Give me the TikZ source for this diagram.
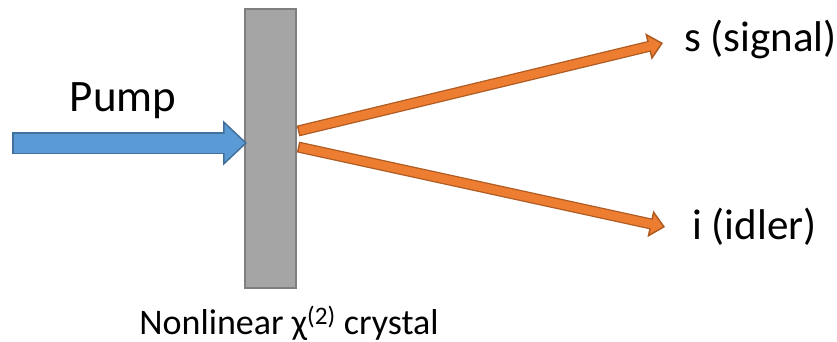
\documentclass[tikz,border=0pt]{standalone}
\usepackage{fontspec}
\setmainfont{Carlito}
\usetikzlibrary{arrows.meta, positioning, calc}
\definecolor{pumpblue}{HTML}{5B9BD5}
\definecolor{pumpedge}{HTML}{41719C}
\definecolor{beamorange}{HTML}{ED7D31}
\definecolor{beamedge}{HTML}{AE5A21}
\definecolor{crystalgray}{HTML}{A5A5A5}
\definecolor{crystaledge}{HTML}{7F7F7F}

\begin{document}
\begin{tikzpicture}[
    x=1pt, y=-1pt,
    crystal/.style={draw=crystaledge, line width=2pt, fill=crystalgray, minimum width=51pt, minimum height=279pt, inner sep=0pt},
    beamlabel/.style={font=\fontsize{43}{50}\selectfont, inner sep=0pt, anchor=base west},
    pumpout/.style={draw=pumpedge, line width=22pt, -{Triangle[length=24pt, width=45pt, line width=1.5pt, fill=pumpblue]}},
    pumpin/.style={draw=pumpblue, line width=19pt, shorten <=1.5pt, shorten >=21pt},
    beamout/.style={draw=beamedge, line width=11pt, -{Triangle[length=15pt, width=27pt, line width=1.5pt, fill=beamorange]}},
    beamin/.style={draw=beamorange, line width=8.5pt, shorten <=1.5pt, shorten >=12pt},
]
    \useasboundingbox (0,0) rectangle (837,342);

    % Crystal
    \node[crystal] (crystal) at (270.5,148.5) {};
    \node[font=\fontsize{36}{42}\selectfont, inner sep=0pt, anchor=base] (crystallabel) at (289,334) {Nonlinear χ\textsuperscript{(2)} crystal};

    % Pump beam
    \coordinate (pumpstart) at (12,143);
    \draw[pumpout] (pumpstart) -- ([xshift=3pt]pumpstart -| crystal.west);
    \draw[pumpin] (pumpstart) -- ([xshift=3pt]pumpstart -| crystal.west);
    \node[font=\fontsize{45}{52}\selectfont, inner sep=0pt, anchor=base] (pumplabel) at (123,112) {Pump};

    % Signal and idler beams
    \coordinate (sigtail) at (298,131);
    \coordinate (sigtip) at (663,43);
    \coordinate (idltail) at (298,147);
    \coordinate (idltip) at (665,227);
    \draw[beamout] (sigtail) -- (sigtip);
    \draw[beamin] (sigtail) -- (sigtip);
    \draw[beamout] (idltail) -- (idltip);
    \draw[beamin] (idltail) -- (idltip);

    \node[beamlabel] (signallabel) at (684,52) {s (signal)};
    \node[beamlabel] (idlerlabel) at (692,239) {i (idler)};
\end{tikzpicture}
\end{document}
